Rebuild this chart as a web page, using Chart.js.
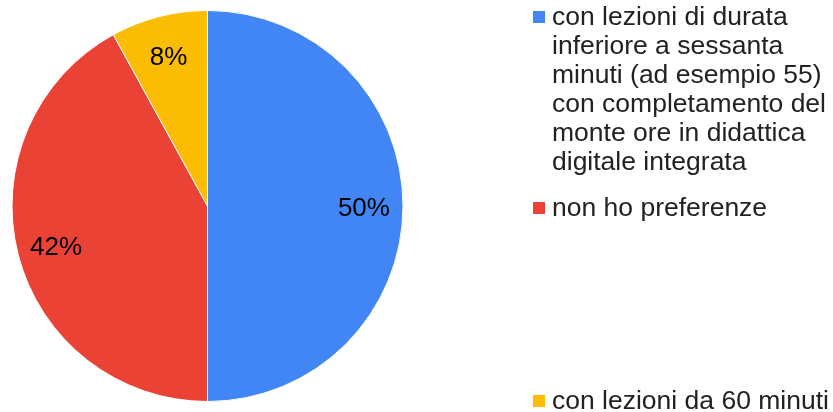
<!DOCTYPE html>
<html>
<head>
<meta charset="utf-8">
<script src="https://cdn.jsdelivr.net/npm/chart.js@4"></script>
<style>
  body { margin: 0; background: #fff; }
  #wrap { position: relative; width: 833px; height: 412px; overflow: hidden; }
  #legend { position: absolute; left: 533px; top: 0; width: 300px;
            font-family: "Liberation Sans", Arial, sans-serif; font-size: 26.5px;
            line-height: 29px; color: #222; }
  .item { position: absolute; left: 0; white-space: nowrap; }
  .box { position: absolute; left: 0; width: 12px; height: 12px; }
  .txt { position: absolute; left: 19px; }
</style>
</head>
<body>
<div id="wrap">
  <canvas id="myChart" width="833" height="412"></canvas>
  <div id="legend"></div>
</div>
<script>
// pie data
const labels = [
  ['con lezioni di durata', 'inferiore a sessanta', 'minuti (ad esempio 55)',
   'con completamento del', 'monte ore in didattica', 'digitale integrata'],
  ['non ho preferenze'],
  ['con lezioni da 60 minuti']
];
const values = [50, 42, 8];
const colors = ['#4285F4', '#EA4335', '#FBBC04'];
const legendTops = [2, 193, 386];

// percentage text inside slices
const sliceLabels = {
  id: 'sliceLabels',
  afterDatasetsDraw(chart) {
    const ctx = chart.ctx;
    const meta = chart.getDatasetMeta(0);
    const total = values.reduce((a, b) => a + b, 0);
    ctx.save();
    ctx.font = '26px "Liberation Sans", Arial, sans-serif';
    ctx.fillStyle = '#000';
    ctx.textAlign = 'center';
    ctx.textBaseline = 'middle';
    meta.data.forEach((arc, i) => {
      const p = arc.getProps(['x', 'y', 'startAngle', 'endAngle', 'outerRadius']);
      const mid = (p.startAngle + p.endAngle) / 2;
      const r = p.outerRadius * 0.8;
      const pct = Math.round(values[i] / total * 100) + '%';
      ctx.fillText(pct, p.x + Math.cos(mid) * r, p.y + Math.sin(mid) * r + 3);
    });
    ctx.restore();
  }
};

function createGraph()
{
    const ctx = document.getElementById('myChart');

    new Chart(ctx, {
      type: 'pie',
      data: {
        labels: labels,
        datasets: [{
          data: values,
          backgroundColor: colors,
          borderColor: '#ffffff',
          borderWidth: 1
        }]
      },
      options: {
        responsive: false,
        animation: false,
        layout: { padding: { left: 11, top: 10, bottom: 10, right: 429 } },
        plugins: {
          legend: { display: false },
          tooltip: { enabled: false }
        }
      },
      plugins: [sliceLabels]
    });
}

function buildLegend()
{
    const legend = document.getElementById('legend');
    labels.forEach((lines, i) => {
      const item = document.createElement('div');
      item.className = 'item';
      item.style.top = legendTops[i] + 'px';
      const box = document.createElement('div');
      box.className = 'box';
      box.style.background = colors[i];
      box.style.top = '9px';
      const txt = document.createElement('div');
      txt.className = 'txt';
      txt.innerHTML = lines.join('<br>');
      item.appendChild(box);
      item.appendChild(txt);
      legend.appendChild(item);
    });
}

createGraph();
buildLegend();
</script>
</body>
</html>
